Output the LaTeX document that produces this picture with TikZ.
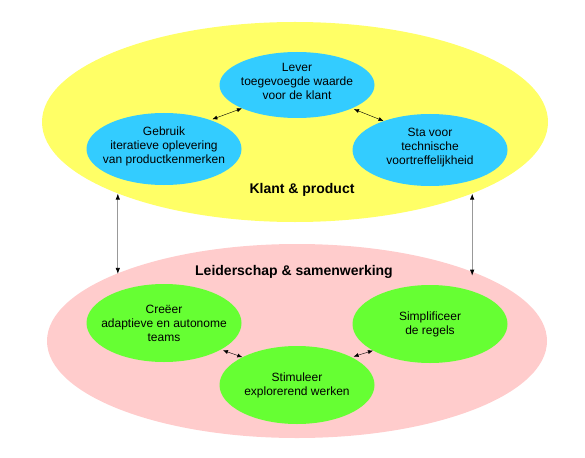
\documentclass[tikz,border=0pt]{standalone}
\usepackage{fontspec}
\setmainfont{Liberation Sans}
\usetikzlibrary{shapes.geometric,arrows.meta}
\definecolor{geel}{HTML}{FFFF66}
\definecolor{roze}{HTML}{FFCCCC}
\definecolor{blauw}{HTML}{33CCFF}
\definecolor{groen}{HTML}{66FF33}
\begin{document}
\begin{tikzpicture}[x=1pt,y=-1pt,
    veld/.style={ellipse,inner sep=0pt},
    doel/.style={ellipse,inner xsep=-20pt,inner ysep=-10pt,minimum width=155pt,minimum height=72pt,
      align=center,font=\fontsize{12}{14}\selectfont},
    kop/.style={font=\fontsize{14}{16}\selectfont\bfseries},
    pijl/.style={{Latex[length=5pt,width=4pt]}-{Latex[length=5pt,width=4pt]},black,shorten <=2pt},
    lijn/.style={{Latex[length=6pt,width=4.5pt,color=black]}-{Latex[length=6pt,width=4.5pt,color=black]},draw=black!40,line width=0.8pt,shorten >=-3pt}]
  \useasboundingbox (0,0) rectangle (585,457);
  \draw
    (295,122) node[veld,fill=geel,minimum width=506pt,minimum height=200pt] (klant){}
    (297,341) node[veld,fill=roze,minimum width=500pt,minimum height=194pt] (leider){};
  \draw
    (297,85) node[doel,fill=blauw,minimum height=66pt] (lever){Lever\\toegevoegde waarde\\voor de klant\\[-6pt]}
    (164,149) node[doel,fill=blauw] (gebruik){Gebruik\\iteratieve oplevering\\van productkenmerken\\[-6pt]}
    (430,150) node[doel,fill=blauw] (sta){Sta voor\\technische\\voortreffelijkheid\\[-6pt]}
    (302,190) node[kop] (klantkop){Klant \& product}
    (294,272) node[kop] (leiderkop){Leiderschap \& samenwerking}
    (164,323) node[doel,fill=groen,minimum height=78pt] (creeer){Creëer\\adaptieve en autonome\\teams}
    (430,324) node[doel,fill=groen,minimum height=78pt] (simpel){Simplificeer\\de regels}
    (297,385) node[doel,fill=groen,minimum height=78pt] (stimuleer){Stimuleer\\explorerend werken};
  \begin{scope}[pijl]
    \draw (gebruik.32) to (lever.203);
    \draw (lever.337) to (sta.148);
    \draw (creeer.335) to (stimuleer.153);
    \draw (stimuleer.27) to (simpel.205);
  \end{scope}
  \begin{scope}[lijn]
    \draw (klant.202.4) to (klant.202.4 |- leider.158.8);
    \draw (klant.338.4) to (klant.338.4 |- leider.21.2);
  \end{scope}
\end{tikzpicture}
\end{document}
